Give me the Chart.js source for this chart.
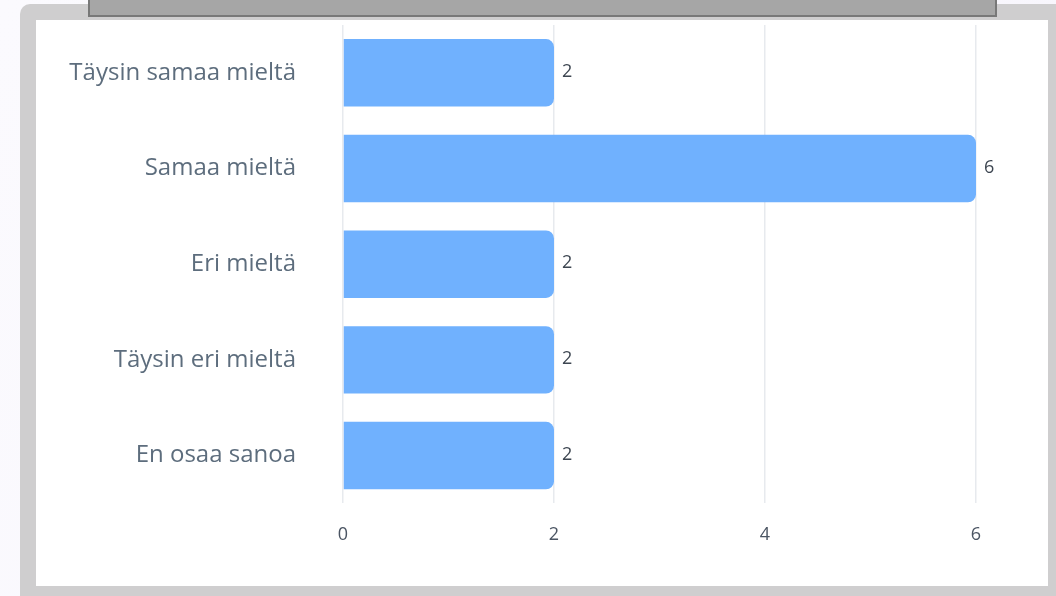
<!DOCTYPE html>
<html>
<head>
<meta charset="utf-8">
<script src="https://cdn.jsdelivr.net/npm/chart.js@4"></script>
<style>
html, body { margin: 0; padding: 0; }
body { width: 1056px; height: 596px; overflow: hidden; position: relative;
  background: linear-gradient(115deg, #fbfafe 0%, #f7f5fc 100%); font-family: "Open Sans", sans-serif; }
#frame { position: absolute; left: 20px; top: 4px; width: 1060px; height: 620px;
  background: #cfcecf; border-radius: 10px; }
#panel { position: absolute; left: 36px; top: 20px; width: 1012px; height: 566px; background: #fff; }
#titlebox { position: absolute; left: 88px; top: -20px; width: 905px; height: 33px;
  background: #a6a6a6; border: 2px solid #787878; }
canvas { display: block; }
</style>
</head>
<body>
<div id="frame"></div>
<div id="panel"><canvas id="chart" width="1012" height="566"></canvas></div>
<div id="titlebox"></div>
<script>
//DATA
const categories = ['Täysin samaa mieltä', 'Samaa mieltä', 'Eri mieltä', 'Täysin eri mieltä', 'En osaa sanoa'];
const counts = [2, 6, 2, 2, 2];
const xTicks = [0, 2, 4, 6];

// values next to the bar ends
const barValues = {
  id: 'barValues',
  afterDatasetsDraw(chart) {
    const ctx = chart.ctx;
    const meta = chart.getDatasetMeta(0);
    ctx.save();
    ctx.font = '18px "Open Sans"';
    ctx.fillStyle = '#3d4651';
    ctx.textAlign = 'left';
    ctx.textBaseline = 'middle';
    meta.data.forEach((bar, i) => {
      ctx.fillText(String(counts[i]), bar.x + 8, bar.y - 1);
    });
    ctx.restore();
  }
};

//CONFIG
const config = {
  type: 'bar',
  data: {
    labels: categories,
    datasets: [{
      data: counts,
      backgroundColor: '#70b1fe',
      borderRadius: 8,
      borderSkipped: 'start',
      categoryPercentage: 1,
      barPercentage: 0.705
    }]
  },
  options: {
    indexAxis: 'y',
    responsive: false,
    animation: false,
    layout: { padding: { top: 5, right: 72, bottom: 19, left: 0 } },
    plugins: {
      legend: { display: false },
      tooltip: { enabled: false }
    },
    scales: {
      x: {
        min: 0,
        max: 6,
        afterBuildTicks: (scale) => { scale.ticks = xTicks.map(v => ({ value: v })); },
        grid: { color: '#e7eaee', lineWidth: 1.5, drawTicks: false },
        border: { display: false },
        ticks: { padding: 21, color: '#4b5563', font: { family: 'Open Sans', size: 18 } }
      },
      y: {
        afterFit: (scale) => { scale.width = 307; },
        grid: { display: false, drawTicks: true, tickLength: 47 },
        border: { display: false },
        ticks: { padding: 0, color: '#5d6d7d', font: { family: 'Open Sans', size: 24, lineHeight: 0.2 } }
      }
    }
  },
  plugins: [barValues]
};

//CHART
new Chart(document.getElementById('chart'), config);
</script>
</body>
</html>
